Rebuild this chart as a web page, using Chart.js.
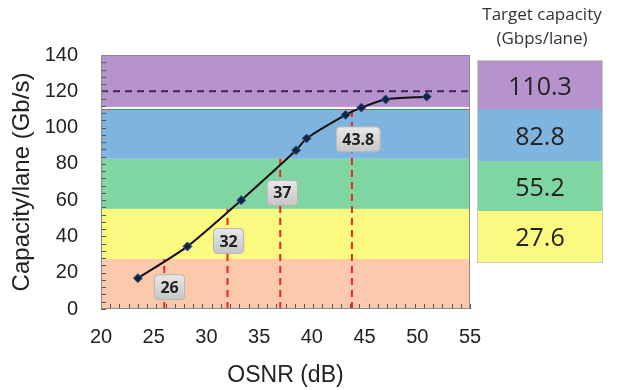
<!DOCTYPE html>
<html>
<head>
<meta charset="utf-8">
<script src="https://cdn.jsdelivr.net/npm/chart.js@4.4.1/dist/chart.umd.min.js"></script>
<style>
  html, body { margin: 0; padding: 0; background: #fff; }
  #wrap { position: relative; width: 619px; height: 390px; }
  #chart { position: absolute; left: 0; top: 0; }
  .ttl { position: absolute; left: 470px; width: 144px; text-align: center; font-family: "Open Sans", sans-serif; font-size: 17px; color: #333; line-height: 24px; }
  #table { position: absolute; left: 477px; top: 60px; width: 124px; border: 1px solid #ccc; }
  #table div { text-align: center; font-family: "Open Sans", sans-serif; font-size: 25px; color: #222; }
</style>
</head>
<body>
<div id="wrap">
  <canvas id="chart" width="619" height="390"></canvas>
  <div class="ttl" style="top:2px">Target capacity</div>
  <div class="ttl" style="top:26px">(Gbps/lane)</div>
  <div id="table"></div>
</div>
<script>
  // Measured capacity per OSNR
  const osnr = [23.5, 28.2, 33.3, 38.5, 39.5, 43.2, 44.7, 47.0, 50.9];
  const capacity = [17, 34.5, 60, 87.5, 94, 107, 111, 115.5, 117];

  // Target capacity bands (bottom to top)
  const bandEdges = [0, 27.6, 55.2, 82.8, 110.3, 140];
  const bandColors = ["#fcc9ad", "#fbf97f", "#80d6a2", "#7fb4de", "#b793cd"];
  const targets = ["27.6", "55.2", "82.8", "110.3"];

  // Required OSNR for each target
  const reqOsnr = [26, 32, 37, 43.8];
  const reqCap = [27.6, 55.2, 82.8, 110.3];
  const reqLabels = ["26", "32", "37", "43.8"];
  const labelX = [26.5, 32.1, 37.2, 44.4];
  const labelY = [12, 37.5, 64, 93.5];

  const maxLine = 120;
  const xTicks = [20, 25, 30, 35, 40, 45, 50, 55];

  // table on the right
  const table = document.getElementById("table");
  const rowH = [48, 52, 50, 51];
  targets.slice().reverse().forEach((t, i) => {
    const d = document.createElement("div");
    d.textContent = t;
    d.style.background = bandColors[bandColors.length - 1 - i];
    d.style.height = rowH[i] + "px";
    d.style.lineHeight = rowH[i] + "px";
    table.appendChild(d);
  });

  const bandsPlugin = {
    id: "bands",
    beforeDatasetsDraw(chart) {
      const { ctx, chartArea: a, scales: { y } } = chart;
      ctx.save();
      for (let i = 0; i < bandColors.length; i++) {
        const top = y.getPixelForValue(bandEdges[i + 1]);
        const bot = y.getPixelForValue(bandEdges[i]);
        ctx.fillStyle = bandColors[i];
        ctx.fillRect(a.left, top, a.right - a.left, bot - top);
      }
      // white separator at top band
      const yb = y.getPixelForValue(bandEdges[4]);
      ctx.fillStyle = "#c0504d";
      ctx.fillRect(a.left, yb, a.right - a.left, 1);
      ctx.fillStyle = "#ffffff";
      ctx.fillRect(a.left, yb - 2, a.right - a.left, 2);
      ctx.restore();
    },
    afterDraw(chart) {
      const { ctx, chartArea: a, scales: { x, y } } = chart;
      ctx.save();
      // minor ticks
      ctx.strokeStyle = "#555";
      ctx.lineWidth = 1;
      ctx.beginPath();
      for (let v = 0; v <= 140; v += 4) {
        const py = Math.round(y.getPixelForValue(v)) + 0.5;
        ctx.moveTo(a.left, py);
        ctx.lineTo(a.left + 5, py);
      }
      for (let k = 0; k <= 40; k++) {
        const px = Math.round(x.getPixelForValue(20 + k * 35 / 40)) + 0.5;
        ctx.moveTo(px, a.bottom);
        ctx.lineTo(px, a.bottom - 5);
      }
      ctx.stroke();
      // frame
      ctx.strokeStyle = "#8a8a8a";
      ctx.strokeRect(a.left + 0.5, a.top + 0.5, a.right - a.left - 1, a.bottom - a.top - 1);
      // label boxes
      ctx.font = "bold 16px 'Open Sans', sans-serif";
      ctx.textAlign = "center";
      ctx.textBaseline = "middle";
      reqLabels.forEach((t, i) => {
        const cx = x.getPixelForValue(labelX[i]);
        const cy = y.getPixelForValue(labelY[i]);
        const w = ctx.measureText(t).width + 12;
        const h = 25;
        const g = ctx.createLinearGradient(0, cy - h / 2, 0, cy + h / 2);
        g.addColorStop(0, "#e8e8e8");
        g.addColorStop(1, "#c6c6c6");
        ctx.fillStyle = g;
        ctx.beginPath();
        ctx.roundRect(cx - w / 2, cy - h / 2, w, h, 4);
        ctx.fill();
        ctx.strokeStyle = "#b4b4b4";
        ctx.stroke();
        ctx.fillStyle = "#222";
        ctx.fillText(t, cx, cy + 1);
      });
      ctx.restore();
    }
  };

  const reqSets = reqOsnr.map((v, i) => ({
    type: "line",
    data: [{ x: v, y: 0 }, { x: v, y: reqCap[i] }],
    borderColor: "#e8261f",
    borderWidth: 2,
    borderDash: [7, 5],
    pointRadius: 0,
    order: 3
  }));

  new Chart(document.getElementById("chart"), {
    type: "scatter",
    data: {
      datasets: [
        {
          type: "line",
          data: [{ x: 20, y: maxLine }, { x: 55, y: maxLine }],
          borderColor: "#3e2258",
          borderWidth: 2,
          borderDash: [7, 5],
          pointRadius: 0,
          order: 2
        },
        ...reqSets,
        {
          type: "line",
          data: osnr.map((v, i) => ({ x: v, y: capacity[i] })),
          borderColor: "#111",
          borderWidth: 2,
          tension: 0.25,
          pointStyle: "rectRot",
          pointRadius: 4.5,
          pointBackgroundColor: "#16233f",
          pointBorderColor: "#2b5f9a",
          pointBorderWidth: 1,
          order: 1
        }
      ]
    },
    options: {
      responsive: false,
      animation: false,
      layout: { padding: { left: 6, top: 55, right: 149, bottom: 0 } },
      plugins: { legend: { display: false }, tooltip: { enabled: false } },
      scales: {
        x: {
          type: "linear",
          min: 20,
          max: 55,
          afterBuildTicks: (s) => { s.ticks = xTicks.map((v) => ({ value: v })); },
          afterFit: (s) => { s.height = 81; },
          grid: { display: false },
          border: { display: false },
          ticks: { padding: 8, color: "#222", font: { family: "'Liberation Sans', Arial", size: 20 } },
          title: { display: true, text: "OSNR (dB)", color: "#222", padding: { top: 4, bottom: 1 }, font: { family: "'Liberation Sans', Arial", size: 23 } }
        },
        y: {
          min: 0,
          max: 140,
          afterFit: (s) => { s.width = 95; },
          grid: { display: false },
          border: { display: false },
          ticks: { stepSize: 20, padding: 15, color: "#222", font: { family: "'Liberation Sans', Arial", size: 20 } },
          title: { display: true, text: "Capacity/lane (Gb/s)", color: "#222", padding: { top: 2, bottom: 0 }, font: { family: "'Liberation Sans', Arial", size: 24 } }
        }
      }
    },
    plugins: [bandsPlugin]
  });
</script>
</body>
</html>
